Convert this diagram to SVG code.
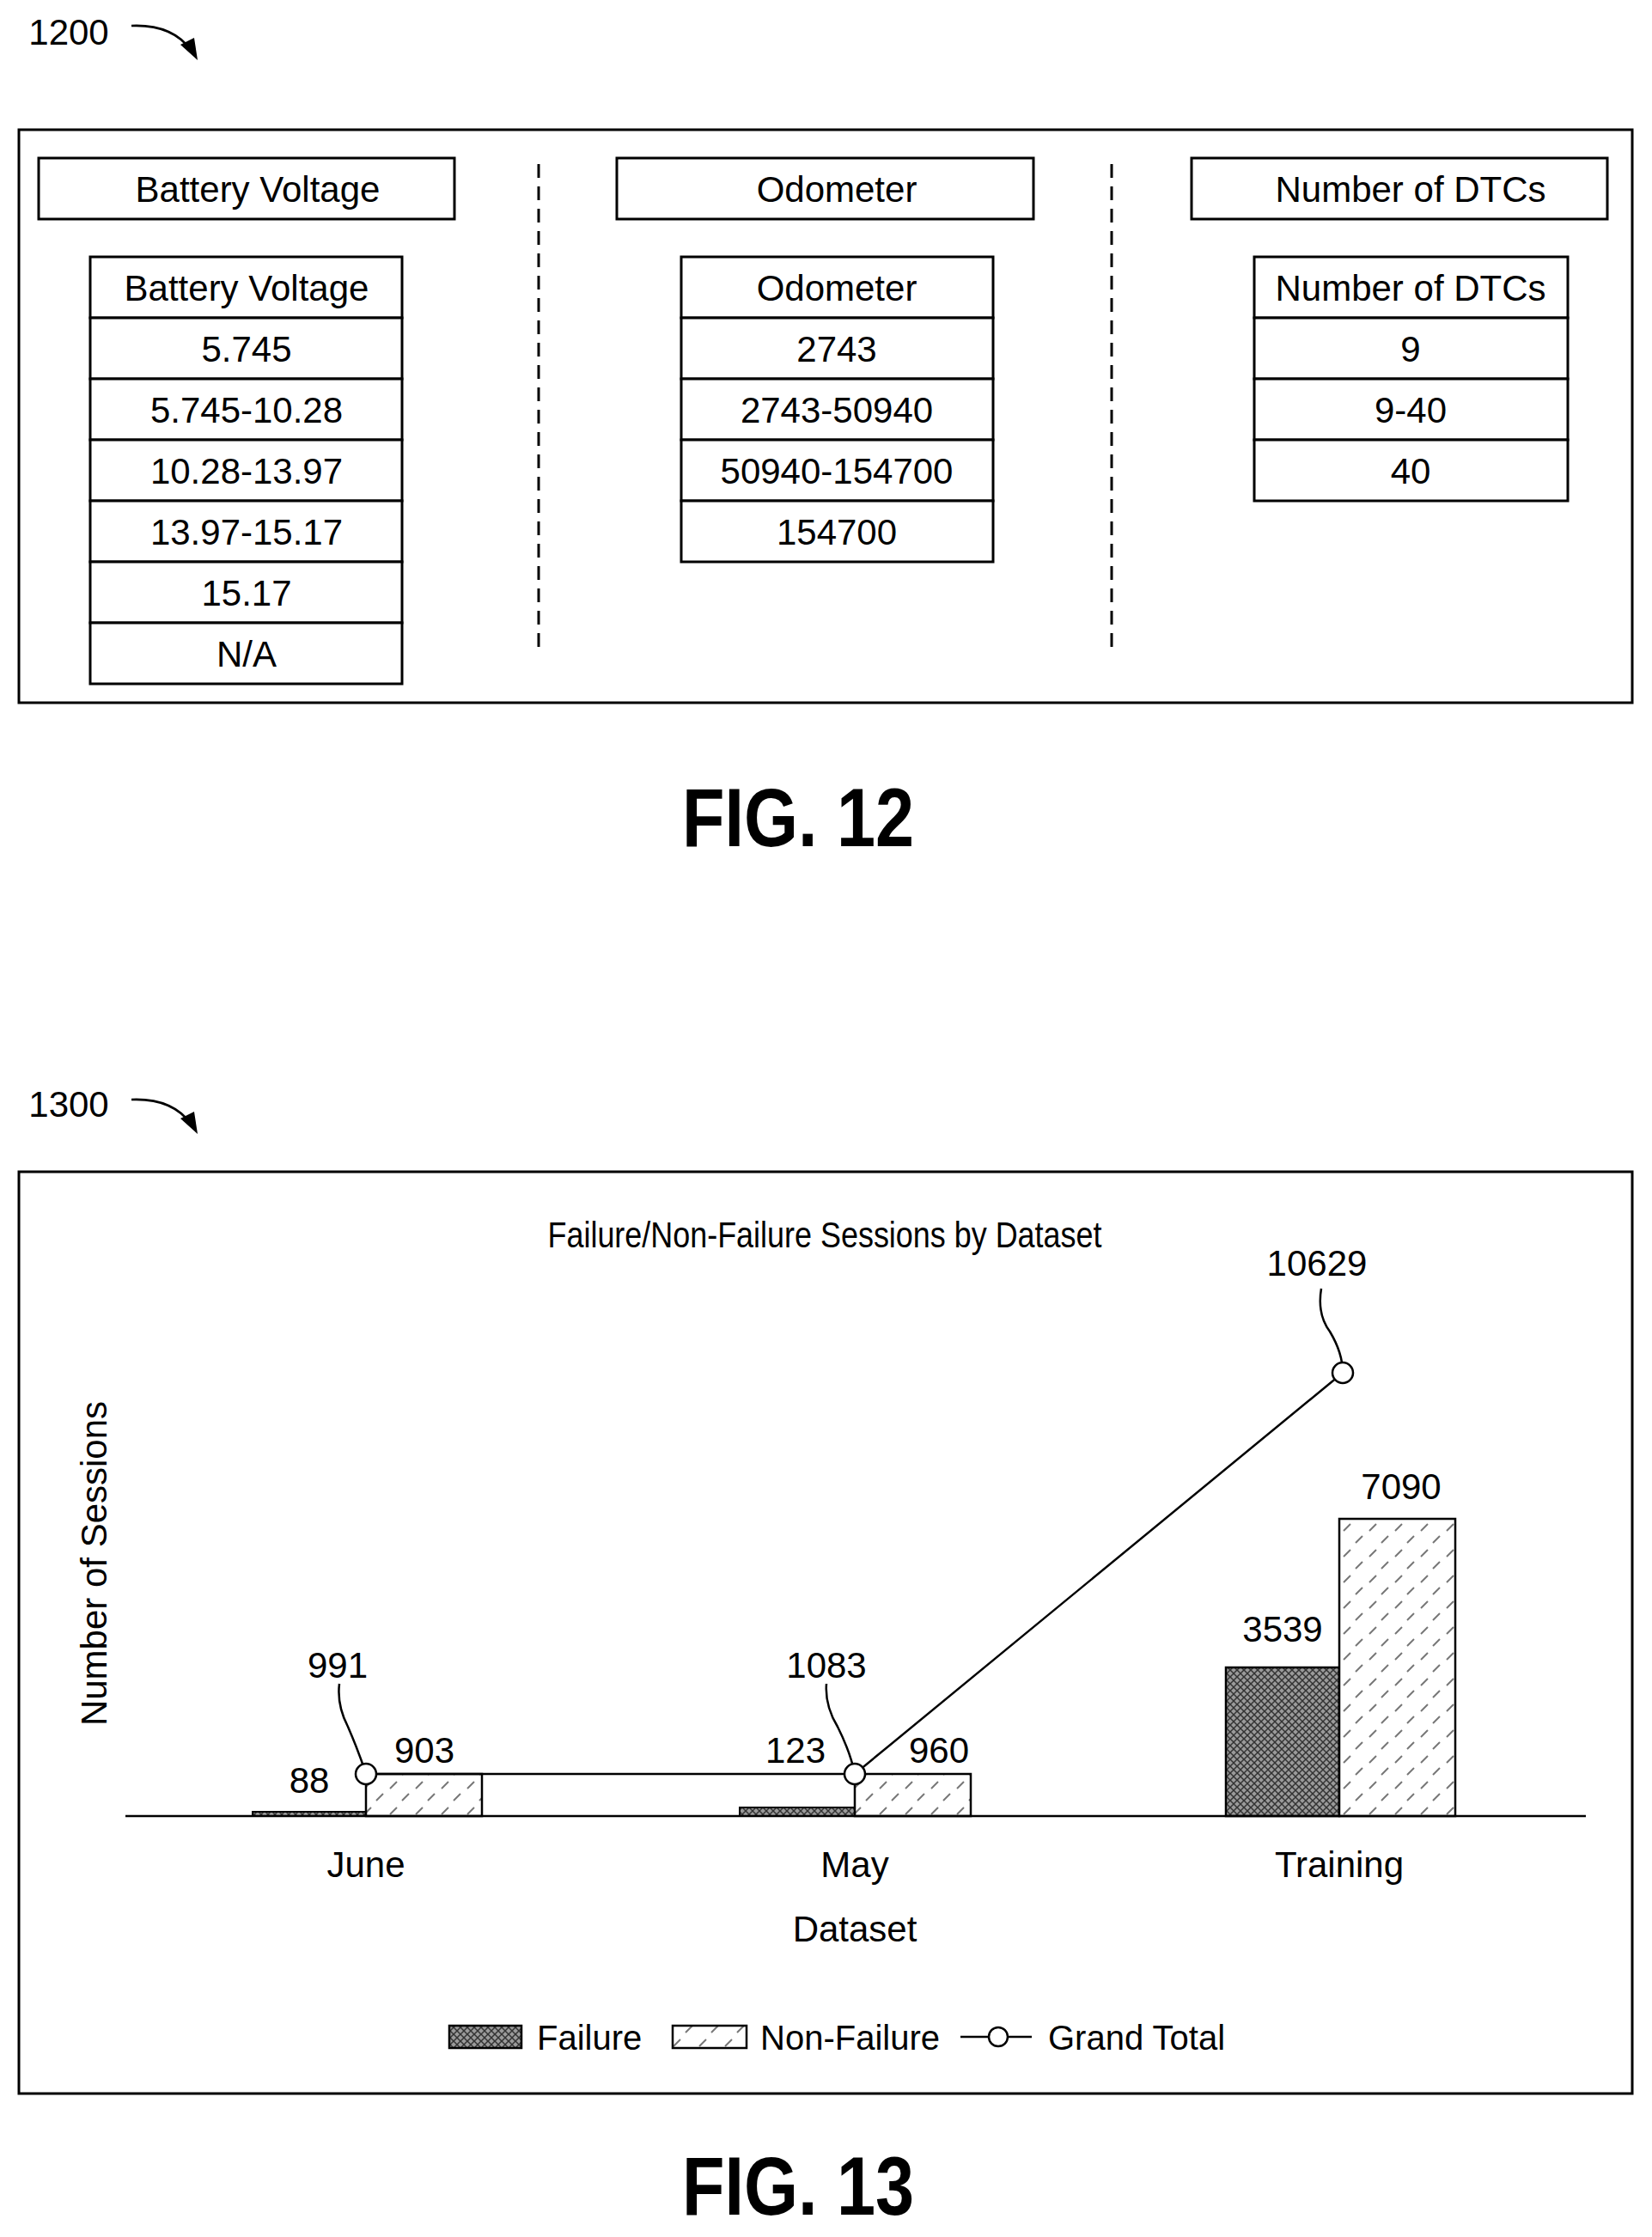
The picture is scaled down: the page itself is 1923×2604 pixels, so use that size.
<svg xmlns="http://www.w3.org/2000/svg" width="1923" height="2604" viewBox="0 0 1923 2604">
<style>
text{font-family:"Liberation Sans",Arial,sans-serif;fill:#000;font-size:42px}
.c{text-anchor:middle}
.lg{font-size:40px}
.fig{font-weight:bold;font-size:96px}
.b{fill:#fff;stroke:#000;stroke-width:3}
.ln{fill:none;stroke:#000;stroke-width:2.5}
.dash{stroke:#000;stroke-width:3;stroke-dasharray:16 10}
</style>
<defs>
<pattern id="fail" width="8" height="8" patternUnits="userSpaceOnUse">
<rect width="8" height="8" fill="#9a9a9a"/>
<path d="M0 0L8 8M8 0L0 8" stroke="#333" stroke-width="1.5"/>
</pattern>
<pattern id="non" width="30" height="30" patternUnits="userSpaceOnUse">
<rect width="30" height="30" fill="#fff"/>
<path d="M4 12L12 4M18 26L26 18" stroke="#777" stroke-width="2"/>
</pattern>
</defs>

<g id="fig12">
<text x="80" y="52" class="c">1200</text>
<path class="ln" d="M153 30Q200 28 222 58" stroke-width="3"/>
<path d="M210 52L230 70L226 44z"/>
<rect class="b" x="22" y="151" width="1878" height="667" fill="none"/>
<line class="dash" x1="627" y1="191" x2="627" y2="755"/>
<line class="dash" x1="1294" y1="191" x2="1294" y2="755"/>
<g id="hdr-bv"><rect class="b" x="45" y="184" width="484" height="71"/><text class="c" x="300" y="235">Battery Voltage</text></g>
<g id="hdr-od"><rect class="b" x="718" y="184" width="485" height="71"/><text class="c" x="974" y="235">Odometer</text></g>
<g id="hdr-dtc"><rect class="b" x="1387" y="184" width="484" height="71"/><text class="c" x="1642" y="235">Number of DTCs</text></g>
<g id="tbl-bv">
<rect class="b" x="105" y="299" width="363" height="71"/><text class="c" x="287" y="350">Battery Voltage</text>
<rect class="b" x="105" y="370" width="363" height="71"/><text class="c" x="287" y="421">5.745</text>
<rect class="b" x="105" y="441" width="363" height="71"/><text class="c" x="287" y="492">5.745-10.28</text>
<rect class="b" x="105" y="512" width="363" height="71"/><text class="c" x="287" y="563">10.28-13.97</text>
<rect class="b" x="105" y="583" width="363" height="71"/><text class="c" x="287" y="634">13.97-15.17</text>
<rect class="b" x="105" y="654" width="363" height="71"/><text class="c" x="287" y="705">15.17</text>
<rect class="b" x="105" y="725" width="363" height="71"/><text class="c" x="287" y="776">N/A</text>
</g>
<g id="tbl-od">
<rect class="b" x="793" y="299" width="363" height="71"/><text class="c" x="974" y="350">Odometer</text>
<rect class="b" x="793" y="370" width="363" height="71"/><text class="c" x="974" y="421">2743</text>
<rect class="b" x="793" y="441" width="363" height="71"/><text class="c" x="974" y="492">2743-50940</text>
<rect class="b" x="793" y="512" width="363" height="71"/><text class="c" x="974" y="563">50940-154700</text>
<rect class="b" x="793" y="583" width="363" height="71"/><text class="c" x="974" y="634">154700</text>
</g>
<g id="tbl-dtc">
<rect class="b" x="1460" y="299" width="365" height="71"/><text class="c" x="1642" y="350">Number of DTCs</text>
<rect class="b" x="1460" y="370" width="365" height="71"/><text class="c" x="1642" y="421">9</text>
<rect class="b" x="1460" y="441" width="365" height="71"/><text class="c" x="1642" y="492">9-40</text>
<rect class="b" x="1460" y="512" width="365" height="71"/><text class="c" x="1642" y="563">40</text>
</g>
<text class="c fig" x="929" y="985" textLength="270" lengthAdjust="spacingAndGlyphs">FIG. 12</text>
</g>

<g id="fig13">
<text x="80" y="1300" class="c">1300</text>
<path class="ln" d="M153 1280Q200 1278 222 1308" stroke-width="3"/>
<path d="M210 1302L230 1320L226 1294z"/>
<rect class="b" x="22" y="1364" width="1878" height="1073" fill="none"/>
<text class="c" x="960" y="1452" textLength="645" lengthAdjust="spacingAndGlyphs">Failure/Non-Failure Sessions by Dataset</text>
<text class="c" transform="translate(124 1820) rotate(-90)">Number of Sessions</text>
<g id="bars">
<rect x="294" y="2109" width="132" height="5" fill="url(#fail)" stroke="#000" stroke-width="2"/>
<rect x="426" y="2065" width="135" height="49" fill="url(#non)" stroke="#000" stroke-width="2.5"/>
<rect x="861" y="2104" width="134" height="10" fill="url(#fail)" stroke="#000" stroke-width="2"/>
<rect x="995" y="2065" width="135" height="49" fill="url(#non)" stroke="#000" stroke-width="2.5"/>
<rect x="1427" y="1941" width="132" height="173" fill="url(#fail)" stroke="#000" stroke-width="2.5"/>
<rect x="1559" y="1768" width="135" height="346" fill="url(#non)" stroke="#000" stroke-width="2.5"/>
</g>
<line x1="146" y1="2114" x2="1846" y2="2114" stroke="#000" stroke-width="2.5"/>
<g id="connectors">
<polyline class="ln" points="426,2065 995,2065 1563,1598"/>
<path class="ln" d="M395 1960Q392 1985 405 2010Q418 2040 426 2065" stroke-width="2"/>
<path class="ln" d="M962 1960Q960 1985 975 2010Q990 2040 995 2065" stroke-width="2"/>
<path class="ln" d="M1538 1500Q1533 1530 1548 1550Q1563 1575 1563 1598" stroke-width="2"/>
<circle cx="426" cy="2065" r="12" fill="#fff" stroke="#000" stroke-width="2.5"/>
<circle cx="995" cy="2065" r="12" fill="#fff" stroke="#000" stroke-width="2.5"/>
<circle cx="1563" cy="1598" r="12" fill="#fff" stroke="#000" stroke-width="2.5"/>
</g>
<text class="c" x="393" y="1953">991</text>
<text class="c" x="360" y="2087">88</text>
<text class="c" x="494" y="2052">903</text>
<text class="c" x="962" y="1953">1083</text>
<text class="c" x="926" y="2052">123</text>
<text class="c" x="1093" y="2052">960</text>
<text class="c" x="1533" y="1485">10629</text>
<text class="c" x="1493" y="1911">3539</text>
<text class="c" x="1631" y="1745">7090</text>
<text class="c" x="426" y="2185">June</text>
<text class="c" x="995" y="2185">May</text>
<text class="c" x="1559" y="2185">Training</text>
<text class="c" x="995" y="2260">Dataset</text>
<g id="legend">
<rect x="523" y="2358" width="84" height="26" fill="url(#fail)" stroke="#000" stroke-width="2.5"/>
<text class="lg" x="625" y="2386">Failure</text>
<rect x="783" y="2358" width="86" height="26" fill="url(#non)" stroke="#000" stroke-width="2.5"/>
<text class="lg" x="885" y="2386">Non-Failure</text>
<line x1="1118" y1="2371" x2="1201" y2="2371" stroke="#000" stroke-width="2.5"/>
<circle cx="1162" cy="2371" r="11" fill="#fff" stroke="#000" stroke-width="2.5"/>
<text class="lg" x="1220" y="2386">Grand Total</text>
</g>
<text class="c fig" x="929" y="2578" textLength="270" lengthAdjust="spacingAndGlyphs">FIG. 13</text>
</g>
</svg>
